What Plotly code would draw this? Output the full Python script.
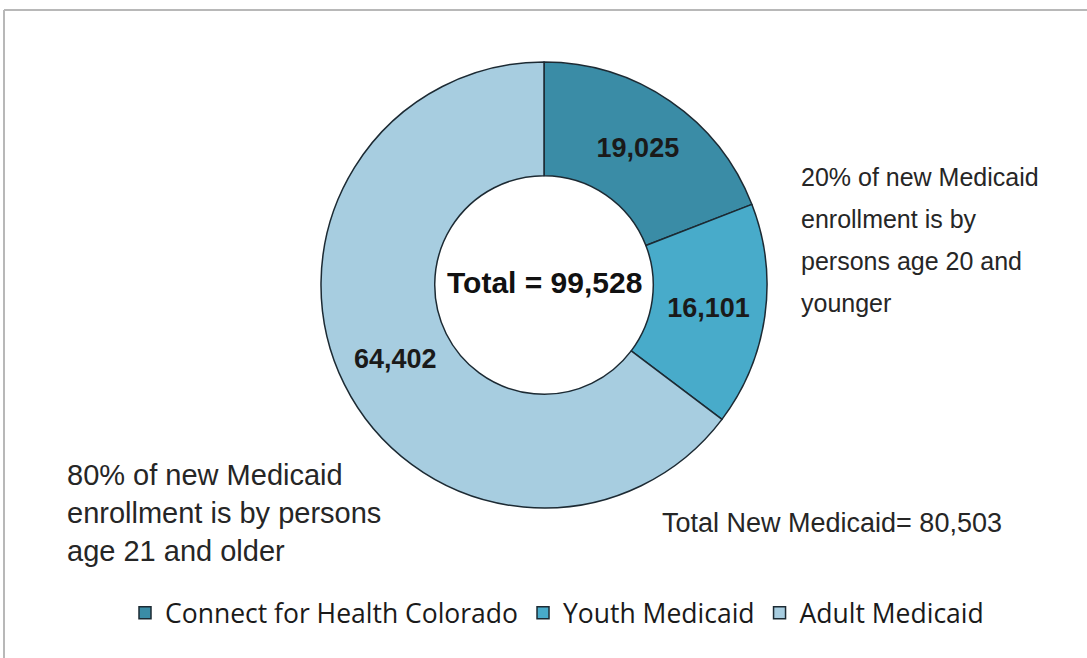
import plotly.graph_objects as go

categories = ["Connect for Health Colorado", "Youth Medicaid", "Adult Medicaid"]
values = [19025, 16101, 64402]
colors = ["#3a8ca6", "#48abca", "#a7cde0"]
total_label = "Total = 99,528"
note_right = ["20% of new Medicaid", "enrollment is by", "persons age 20 and", "younger"]
note_left = ["80% of new Medicaid", "enrollment is by persons", "age 21 and older"]
note_total = "Total New Medicaid= 80,503"

W, H = 1087, 658
cx, cy, r = 544, 285, 223

fig = go.Figure(go.Pie(
    labels=categories,
    values=values,
    hole=0.49,
    sort=False,
    direction="clockwise",
    rotation=0,
    marker=dict(colors=colors, line=dict(color="#1c2a33", width=1.5)),
    texttemplate="<b>%{value:,}</b>",
    textposition="inside",
    insidetextorientation="horizontal",
    textfont=dict(family="Liberation Sans, Arial", size=27, color="#1a1a1a"),
    hoverinfo="label+value",
    domain=dict(x=[(cx - r) / W, (cx + r) / W], y=[(H - cy - r) / H, (H - cy + r) / H]),
))

ann = []
ann.append(dict(x=cx / W, y=1 - (cy - 3) / H, text="<b>" + total_label + "</b>",
                font=dict(family="Liberation Sans, Arial", size=30, color="#111111")))
for i, t in enumerate(note_right):
    ann.append(dict(x=799 / W, y=1 - (193 + 42 * i) / H, text=t, xanchor="left", yanchor="bottom",
                    font=dict(family="Liberation Sans, Arial", size=25, color="#262626")))
for i, t in enumerate(note_left):
    ann.append(dict(x=65 / W, y=1 - (493 + 38 * i) / H, text=t, xanchor="left", yanchor="bottom",
                    font=dict(family="Liberation Sans, Arial", size=29, color="#262626")))
ann.append(dict(x=660 / W, y=1 - 540 / H, text=note_total, xanchor="left", yanchor="bottom",
                font=dict(family="Liberation Sans, Arial", size=27, color="#262626")))
for a in ann:
    a.update(xref="paper", yref="paper", showarrow=False)

fig.update_layout(
    width=W, height=H,
    margin=dict(l=0, r=0, t=0, b=0),
    paper_bgcolor="white",
    annotations=ann,
    showlegend=True,
    legend=dict(orientation="h", x=557 / W, xanchor="center", y=1 - 613 / H, yanchor="middle",
                font=dict(family="Open Sans", size=26.5, color="#1a1a1a"),
                itemclick=False, itemdoubleclick=False),
    shapes=[
        dict(type="line", xref="paper", yref="paper", x0=4 / W, x1=1, y0=1 - 10 / H, y1=1 - 10 / H,
             line=dict(color="#b8b8b8", width=2)),
        dict(type="line", xref="paper", yref="paper", x0=4 / W, x1=4 / W, y0=0, y1=1 - 10 / H,
             line=dict(color="#b8b8b8", width=2)),
    ],
)

fig.write_html("out.html", config={"displayModeBar": False},
               post_script="document.body.style.margin='0';document.body.style.padding='0';")
